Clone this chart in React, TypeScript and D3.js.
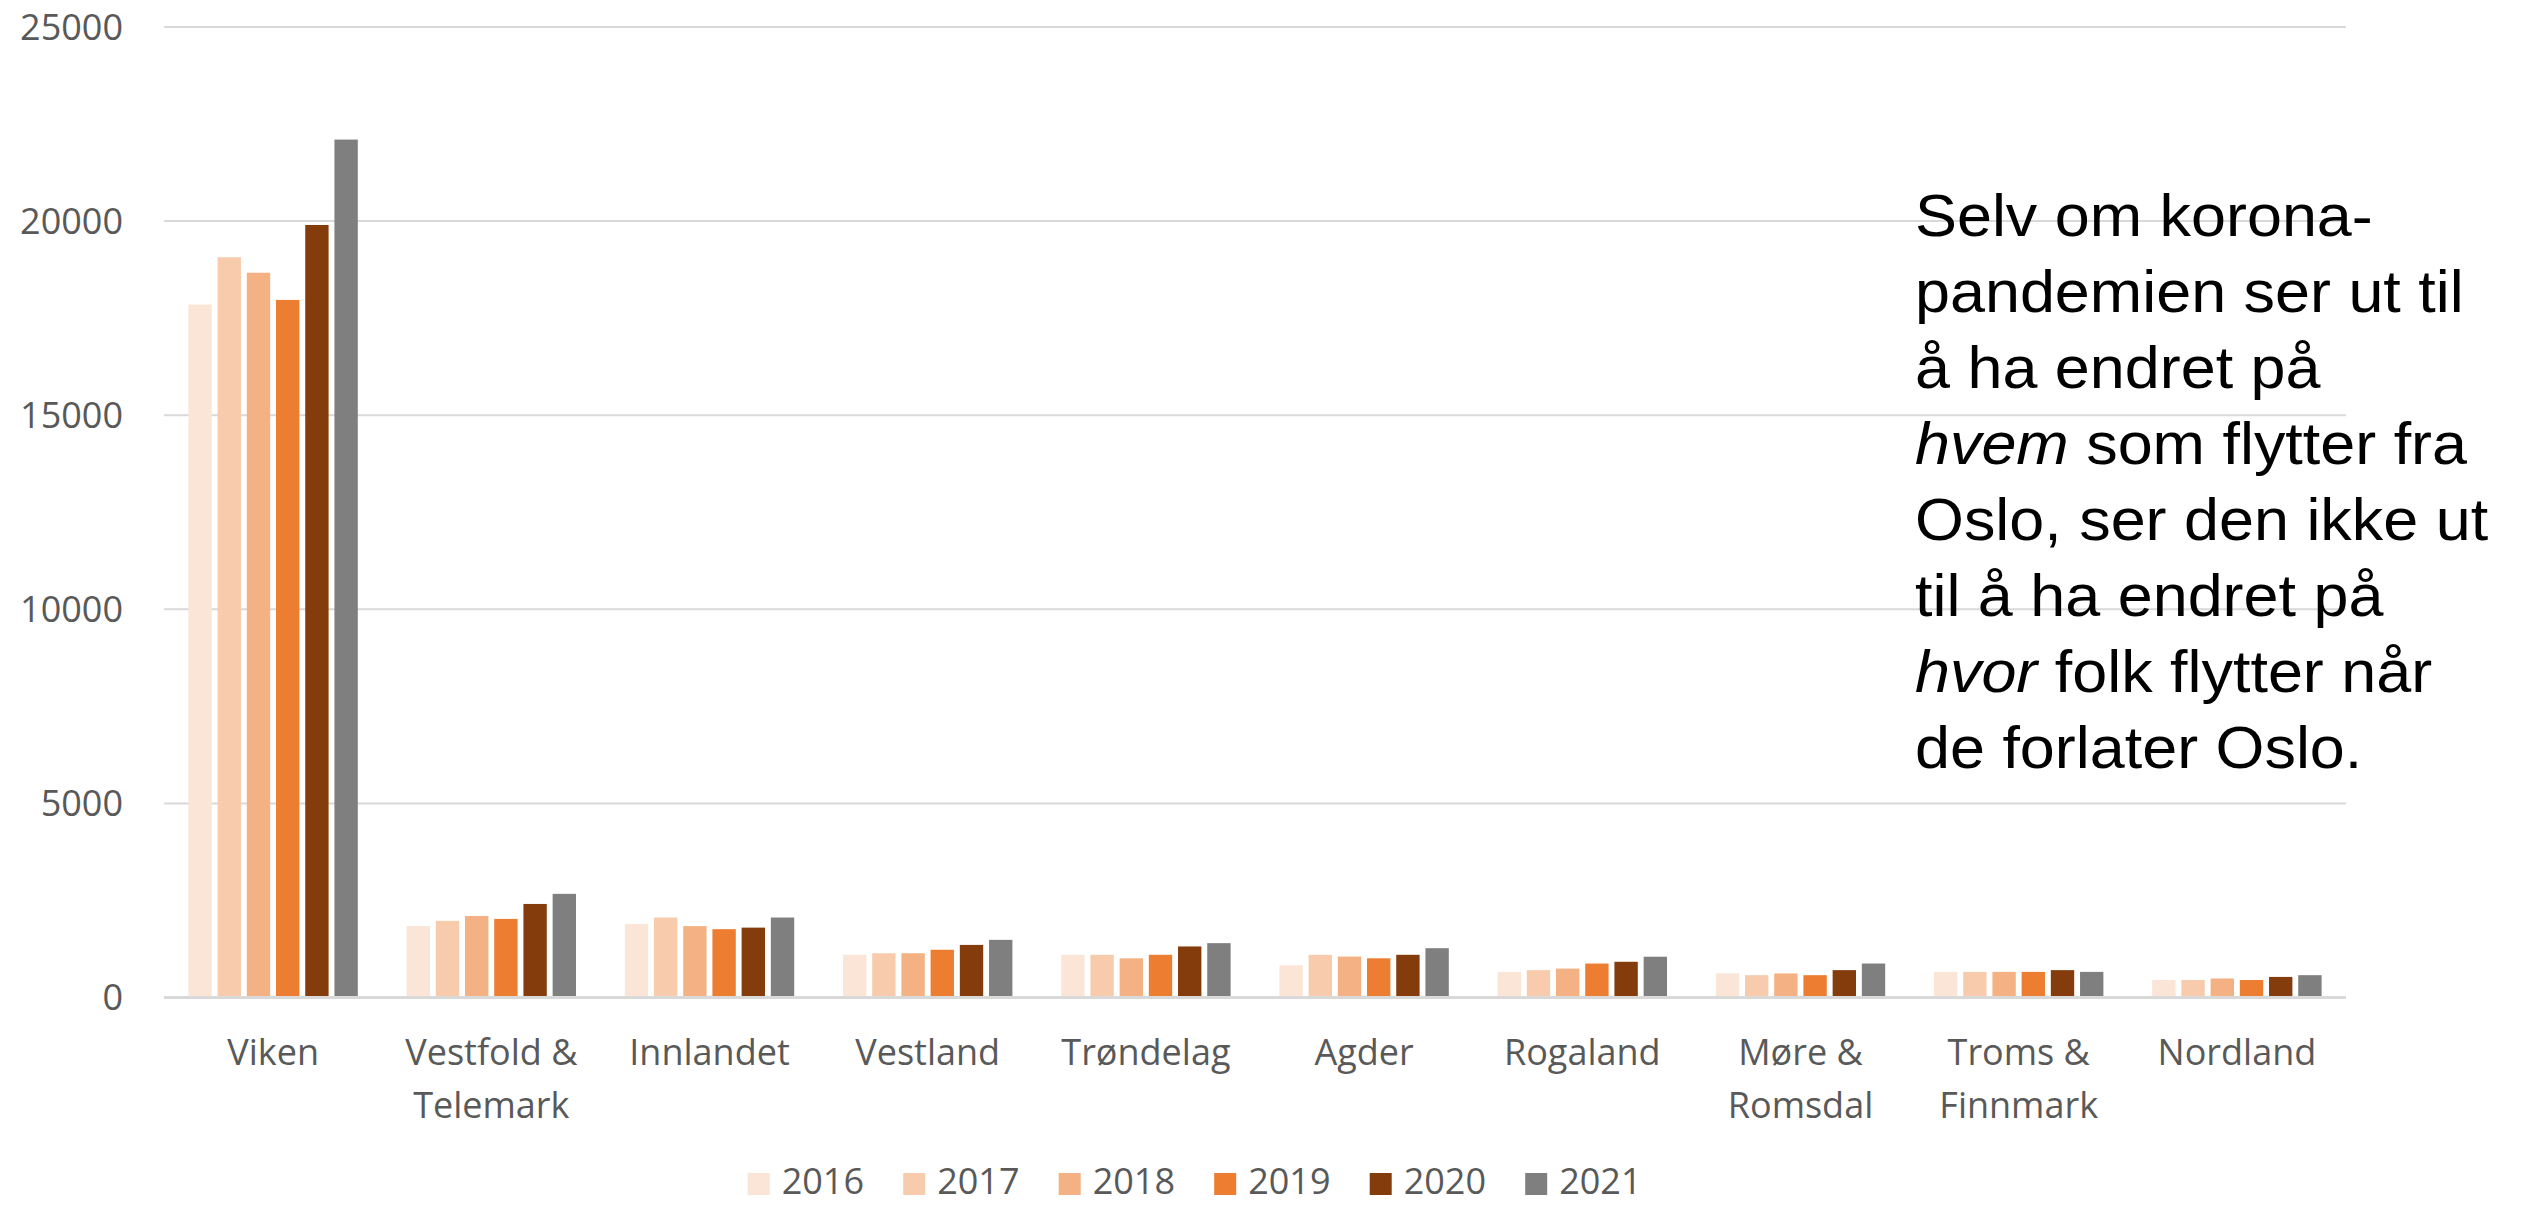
import React from "react";
import * as d3 from "d3";

const categories = [
  "Viken",
  "Vestfold & Telemark",
  "Innlandet",
  "Vestland",
  "Trøndelag",
  "Agder",
  "Rogaland",
  "Møre & Romsdal",
  "Troms & Finnmark",
  "Nordland",
];

const years = ["2016", "2017", "2018", "2019", "2020", "2021"];

const v2016 = [17850, 1840, 1890, 1100, 1100, 830, 660, 620, 660, 450];
const v2017 = [19070, 1975, 2060, 1140, 1100, 1100, 705, 575, 660, 450];
const v2018 = [18670, 2100, 1840, 1140, 1010, 1055, 745, 620, 660, 490];
const v2019 = [17970, 2025, 1760, 1230, 1100, 1010, 875, 575, 660, 450];
const v2020 = [19900, 2410, 1800, 1355, 1315, 1100, 920, 705, 705, 530];
const v2021 = [22100, 2670, 2060, 1485, 1400, 1270, 1050, 875, 660, 575];

const seriesValues = [v2016, v2017, v2018, v2019, v2020, v2021];

const yTicks = [0, 5000, 10000, 15000, 20000, 25000];

const colors = ["#FBE5D6", "#F8CBAD", "#F4B183", "#ED7D31", "#843C0C", "#7F7F7F"];

const noteLines: { text: string; italic?: boolean }[][] = [
  [{ text: "Selv om korona-" }],
  [{ text: "pandemien ser ut til" }],
  [{ text: "å ha endret på" }],
  [{ text: "hvem", italic: true }, { text: " som flytter fra" }],
  [{ text: "Oslo, ser den ikke ut" }],
  [{ text: "til å ha endret på" }],
  [{ text: "hvor", italic: true }, { text: " folk flytter når" }],
  [{ text: "de forlater Oslo." }],
];

const W = 2531;
const H = 1205;
const plotLeft = 164;
const plotRight = 2346;
const plotTop = 27;
const plotBottom = 997.5;
const labelFont = "'Open Sans', 'Noto Sans', sans-serif";
const textColor = "#595959";

export default function App() {
  const x0 = d3.scaleBand<string>().domain(categories).range([plotLeft, plotRight]).padding(0);
  const groupPad = (x0.bandwidth() - 169.4) / 2;
  const x1 = d3
    .scaleBand<string>()
    .domain(years)
    .range([groupPad, x0.bandwidth() - groupPad])
    .paddingInner(0.2)
    .paddingOuter(0);
  const y = d3.scaleLinear().domain([0, 25000]).range([plotBottom, plotTop]);

  const legend = d3.scaleBand<string>().domain(years).range([747.7, 747.7 + 6 * 155.5]);

  return (
    <svg
      width={W}
      height={H}
      style={{ position: "absolute", left: 0, top: 0, background: "#fff" }}
    >
      <rect x={0} y={0} width={W} height={H} fill="#fff" />
      {/* gridlines */}
      {yTicks.map((t) => (
        <line
          key={"g" + t}
          x1={plotLeft}
          x2={plotRight}
          y1={y(t)}
          y2={y(t)}
          stroke="#D9D9D9"
          strokeWidth={t === 0 ? 3 : 2}
        />
      ))}
      {/* y tick labels */}
      {yTicks.map((t) => (
        <text
          key={"t" + t}
          x={123}
          y={y(t)}
          dy="0.35em"
          textAnchor="end"
          fontFamily={labelFont}
          fontSize={36}
          fill={textColor}
        >
          {t}
        </text>
      ))}
      {/* bars */}
      {categories.map((c, ci) => (
        <g key={c} transform={`translate(${x0(c)},0)`}>
          {years.map((yr, si) => {
            const v = seriesValues[si][ci];
            return (
              <rect
                key={yr}
                x={x1(yr)}
                y={y(v)}
                width={x1.bandwidth()}
                height={y(0) - y(v) - 1.5}
                fill={colors[si]}
              />
            );
          })}
        </g>
      ))}
      {/* category labels */}
      {categories.map((c) => {
        const parts = c.includes("& ") ? [c.split("& ")[0] + "&", c.split("& ")[1]] : [c];
        const cx = (x0(c) as number) + x0.bandwidth() / 2;
        return (
          <text
            key={"l" + c}
            x={cx}
            y={1065}
            textAnchor="middle"
            fontFamily={labelFont}
            fontSize={36}
            fill={textColor}
          >
            {parts.map((p, i) => (
              <tspan key={i} x={cx} dy={i === 0 ? 0 : 53}>
                {p}
              </tspan>
            ))}
          </text>
        );
      })}
      {/* legend */}
      {years.map((yr, si) => {
        const lx = legend(yr) as number;
        return (
          <g key={"lg" + yr}>
            <rect x={lx} y={1173} width={22} height={22} fill={colors[si]} />
            <text
              x={lx + 34}
              y={1194}
              fontFamily={labelFont}
              fontSize={36}
              fill={textColor}
            >
              {yr}
            </text>
          </g>
        );
      })}
      {/* annotation */}
      <g transform="translate(1915,0) scale(1.075,1)">
        {noteLines.map((line, i) => (
          <text
            key={"n" + i}
            x={0}
            y={236 + i * 76}
            fontFamily="'Liberation Sans', Arial, sans-serif"
            fontSize={58.5}
            fill="#000"
          >
            {line.map((seg, j) => (
              <tspan key={j} fontStyle={seg.italic ? "italic" : "normal"}>
                {seg.text}
              </tspan>
            ))}
          </text>
        ))}
      </g>
    </svg>
  );
}
